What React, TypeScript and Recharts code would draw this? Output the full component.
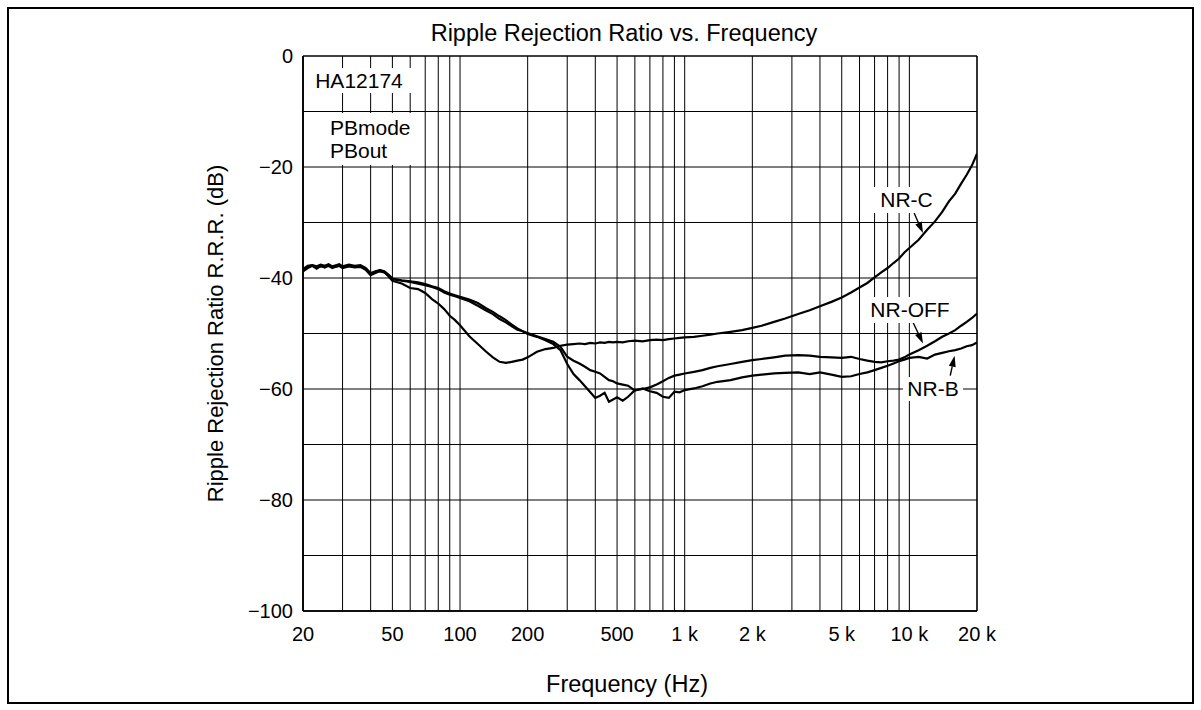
import React from "react";
import { LineChart, Line, XAxis, YAxis, ReferenceLine } from "recharts";

// frequency points (Hz)
const freqs = [
  20, 21, 22, 23, 24, 25, 26, 27, 28, 29, 30, 32, 34, 36, 38, 40, 42, 44, 46, 48,
  50, 55, 60, 65, 70, 75, 80, 85, 90, 95, 100, 110, 120, 130, 140, 150, 160, 170, 180, 190,
  200, 220, 240, 260, 280, 300, 320, 340, 360, 380, 400, 420, 440, 460, 480, 500, 530, 560, 600, 650,
  700, 750, 800, 850, 900, 950, 1000, 1100, 1200, 1300, 1400, 1600, 1800, 2000, 2200, 2500, 2800, 3200, 3600, 4000,
  4500, 5000, 5500, 6000, 6500, 7000, 7500, 8000, 8500, 9000, 9500, 10000, 11000, 12000, 13000, 14000, 15000, 16000, 17000, 18000,
  19000, 20000,
];

// R.R.R. (dB)
const nrC = [
  -38.4, -37.8, -37.7, -37.9, -37.6, -37.8, -37.5, -37.9, -37.7, -37.5, -37.9, -37.6, -37.8, -37.7, -38.2, -39.1, -38.8, -38.6, -38.9, -39.7,
  -40.5, -41.0, -41.8, -42.0, -42.7, -43.8, -44.6, -45.6, -46.8, -47.6, -48.5, -50.5, -51.9, -53.2, -54.3, -55.1, -55.3, -55.1, -54.9, -54.7,
  -54.3, -53.3, -52.8, -52.6, -52.2, -52.0, -51.9, -51.8, -51.9, -51.7, -51.8, -51.6, -51.7, -51.5, -51.6, -51.5, -51.6, -51.4, -51.3, -51.4,
  -51.2, -51.1, -51.2, -51.0, -50.9, -50.8, -50.7, -50.6, -50.4, -50.2, -50.0, -49.7, -49.4, -49.0, -48.6, -47.9, -47.3, -46.5, -45.8, -45.1,
  -44.3, -43.5, -42.6, -41.7, -40.9, -39.9, -39.0, -38.2, -37.3, -36.5, -35.4, -34.6, -33.1, -31.3, -29.8, -28.1, -26.2, -24.8, -23.0, -21.4,
  -19.7, -17.6,
];
const nrOff = [
  -38.7, -38.1, -37.7, -38.2, -37.9, -38.0, -37.7, -38.1, -38.0, -37.7, -38.1, -37.8, -38.0, -37.9, -38.4, -39.4, -38.9, -38.6, -38.8, -39.4,
  -40.1, -40.4, -40.6, -40.8, -41.1, -41.5, -41.8, -42.4, -42.8, -43.1, -43.4, -43.9, -44.5, -45.4, -46.1, -46.9, -47.6, -48.4, -49.1, -49.6,
  -50.1, -50.6, -51.2, -51.9, -53.0, -55.5, -57.3, -58.4, -59.5, -60.6, -61.6, -61.2, -60.7, -62.3, -61.9, -61.5, -62.1, -61.4, -60.2, -60.0,
  -59.7, -59.2, -58.6, -58.0, -57.6, -57.4, -57.2, -56.9, -56.6, -56.2, -55.9, -55.5, -55.1, -54.8, -54.6, -54.3, -54.0, -53.9, -54.0, -54.2,
  -54.3, -54.4, -54.2, -54.6, -54.9, -55.1, -55.2, -55.0, -54.9, -54.7, -54.3, -53.8, -53.0, -52.2, -51.4, -50.6, -50.0, -49.4, -48.6, -47.9,
  -47.2, -46.4,
];
const nrB = [
  -38.8, -38.2, -37.8, -38.3, -37.8, -38.1, -37.8, -38.2, -37.9, -37.8, -38.2, -37.9, -38.1, -38.0, -38.5, -39.5, -39.1, -38.8, -39.0, -39.5,
  -40.2, -40.5, -40.7, -41.0, -41.3, -41.6, -42.0, -42.6, -43.0, -43.3, -43.6, -44.2, -45.0, -45.8, -46.5, -47.4, -48.0, -48.7, -49.3, -49.6,
  -49.9, -50.5, -51.0, -51.5, -52.4, -54.2, -54.9, -55.4, -56.0, -56.6, -56.9, -57.2, -57.8, -58.4, -58.6, -59.0, -59.2, -59.4, -60.3, -59.9,
  -60.4, -60.7, -61.4, -61.6, -60.5, -60.6, -60.2, -59.9, -59.5, -59.0, -58.7, -58.4, -57.9, -57.6, -57.4, -57.2, -57.1, -57.0, -57.3, -57.0,
  -57.4, -57.8, -57.7, -57.3, -57.0, -56.6, -56.2, -55.8, -55.4, -55.0, -54.7, -54.4, -54.2, -54.5, -53.8, -53.5, -53.2, -53.0, -52.7, -52.3,
  -52.1, -51.6,
];

const xTicks = [20, 50, 100, 200, 500, 1000, 2000, 5000, 10000, 20000];
const yTicks = [0, -20, -40, -60, -80, -100];
const gridFreqs = [
  20, 30, 40, 50, 60, 70, 80, 90, 100, 200, 300, 400, 500, 600, 700, 800, 900,
  1000, 2000, 3000, 4000, 5000, 6000, 7000, 8000, 9000, 10000, 20000,
];
const gridDb = [0, -10, -20, -30, -40, -50, -60, -70, -80, -90, -100];

// arrows: [start, tip] in data coords
const arrows = [
  [{ x: 10500, y: -28.3 }, { x: 11500, y: -31.9 }],
  [{ x: 10300, y: -47.7 }, { x: 11500, y: -51.8 }],
  [{ x: 15200, y: -57.6 }, { x: 15900, y: -54.0 }],
];

const data = freqs.map((f, i) => ({ f, nrC: nrC[i], nrOff: nrOff[i], nrB: nrB[i] }));

const font = "'Liberation Sans', Arial, Helvetica, sans-serif";

const fmtFreq = (v: number) => (v >= 1000 ? `${v / 1000} k` : `${v}`);
const fmtDb = (v: number) => (v < 0 ? `\u2212${-v}` : `${v}`);

const ArrowShape = (props: any) => {
  const { x1, y1, x2, y2 } = props;
  const a = Math.atan2(y2 - y1, x2 - x1);
  const len = 11;
  const w = 3.5;
  const bx = x2 - len * Math.cos(a);
  const by = y2 - len * Math.sin(a);
  const pts = `${x2},${y2} ${bx - w * Math.sin(a)},${by + w * Math.cos(a)} ${bx + w * Math.sin(a)},${by - w * Math.cos(a)}`;
  return (
    <g>
      <line x1={x1} y1={y1} x2={bx} y2={by} stroke="#000" strokeWidth={1.4} />
      <polygon points={pts} fill="#000" />
    </g>
  );
};

const boxStyle: React.CSSProperties = {
  position: "absolute",
  background: "#fff",
  fontFamily: font,
  fontSize: 21,
  color: "#000",
  whiteSpace: "nowrap",
};

export default function App() {
  return (
    <div style={{ position: "absolute", left: 0, top: 0, width: 1201, height: 710, background: "#fff" }}>
      <div
        style={{
          position: "absolute",
          left: 7,
          top: 7,
          width: 1187,
          height: 697,
          border: "2px solid #000",
          boxSizing: "border-box",
        }}
      />
      <div
        style={{
          position: "absolute",
          left: 0,
          width: 1248,
          top: 20,
          textAlign: "center",
          fontFamily: font,
          fontSize: 23.5,
        }}
      >
        Ripple Rejection Ratio vs. Frequency
      </div>
      <div style={{ position: "absolute", left: 0, top: 0 }}>
        <LineChart width={1201} height={710} data={data} margin={{ top: 56, right: 224, bottom: 9, left: 203 }}>
          {gridFreqs.map((f) => (
            <ReferenceLine key={`vx${f}`} x={f} stroke="#000" strokeWidth={f === 20 || f === 20000 ? 1.6 : 1} />
          ))}
          {gridDb.map((d) => (
            <ReferenceLine key={`hy${d}`} y={d} stroke="#000" strokeWidth={d === 0 || d === -100 ? 1.6 : 1} />
          ))}
          <XAxis
            dataKey="f"
            type="number"
            scale="log"
            domain={[20, 20000]}
            ticks={xTicks}
            tickFormatter={fmtFreq}
            allowDataOverflow
            height={90}
            tickLine={false}
            tickMargin={10}
            axisLine={{ stroke: "#000", strokeWidth: 1.6 }}
            tick={{ fill: "#000", fontSize: 20, fontFamily: font }}
            interval={0}
            label={{
              value: "Frequency (Hz)",
              position: "insideBottom",
              offset: 9,
              dx: -13,
              style: { fill: "#000", fontSize: 23.5, fontFamily: font },
            }}
          />
          <YAxis
            type="number"
            domain={[-100, 0]}
            ticks={yTicks}
            tickFormatter={fmtDb}
            width={100}
            tickLine={false}
            tickMargin={4}
            axisLine={{ stroke: "#000", strokeWidth: 1.6 }}
            tick={{ fill: "#000", fontSize: 20, fontFamily: font }}
            interval={0}
            label={{
              value: "Ripple Rejection Ratio R.R.R. (dB)",
              angle: -90,
              position: "insideLeft",
              offset: 12,
              style: { fill: "#000", fontSize: 22, fontFamily: font, textAnchor: "middle" },
            }}
          />
          <Line dataKey="nrC" type="linear" stroke="#000" strokeWidth={2.2} dot={false} isAnimationActive={false} />
          <Line dataKey="nrOff" type="linear" stroke="#000" strokeWidth={2.2} dot={false} isAnimationActive={false} />
          <Line dataKey="nrB" type="linear" stroke="#000" strokeWidth={2.2} dot={false} isAnimationActive={false} />
          {arrows.map((seg, i) => (
            <ReferenceLine key={`ar${i}`} segment={seg} shape={ArrowShape} />
          ))}
        </LineChart>
      </div>
      <div style={{ ...boxStyle, left: 306, top: 68, width: 106, height: 25, lineHeight: "25px", textAlign: "center" }}>
        HA12174
      </div>
      <div style={{ ...boxStyle, left: 325, top: 113, width: 92, height: 52, lineHeight: "23px", paddingLeft: 5, boxSizing: "border-box", paddingTop: 3 }}>
        PBmode
        <br />
        PBout
      </div>
      <div style={{ ...boxStyle, left: 873, top: 187, width: 67, height: 26, lineHeight: "26px", textAlign: "center" }}>
        NR-C
      </div>
      <div style={{ ...boxStyle, left: 864, top: 297, width: 92, height: 26, lineHeight: "26px", textAlign: "center" }}>
        NR-OFF
      </div>
      <div style={{ ...boxStyle, left: 903, top: 377, width: 60, height: 24, lineHeight: "24px", textAlign: "center" }}>
        NR-B
      </div>
    </div>
  );
}
